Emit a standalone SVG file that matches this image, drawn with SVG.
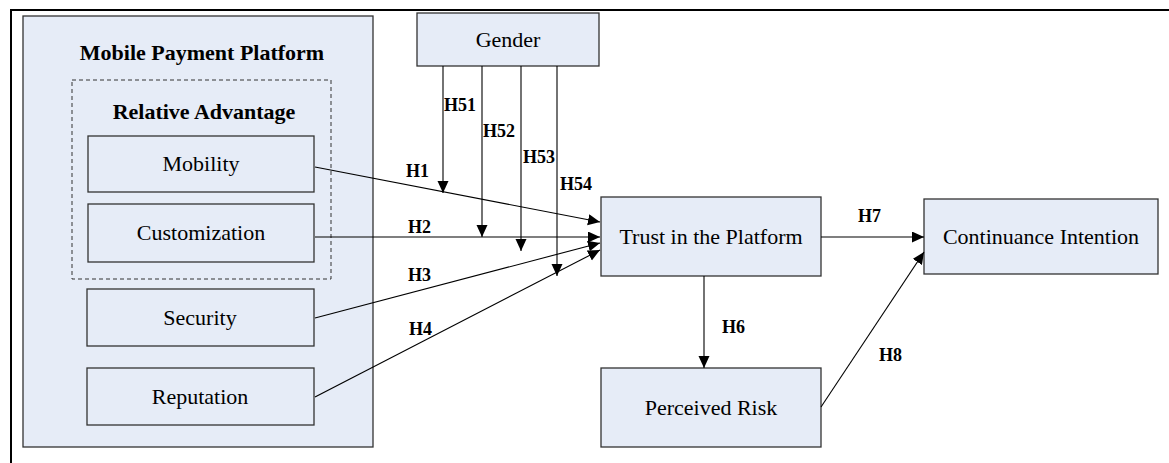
<svg xmlns="http://www.w3.org/2000/svg" width="1169" height="463" viewBox="0 0 1169 463">
<style>
.box{fill:#E6ECF7;stroke:#333;stroke-width:1.3}
.t{font-family:"Liberation Serif","Times New Roman",serif;font-size:22px;fill:#000;text-anchor:middle}
.tb{font-family:"Liberation Serif","Times New Roman",serif;font-size:22px;font-weight:bold;fill:#000;text-anchor:middle}
.lb{font-family:"Liberation Serif","Times New Roman",serif;font-size:18px;font-weight:bold;fill:#000}
.c{stroke:#000;stroke-width:1.1;fill:none;marker-end:url(#ah)}
</style>
<defs>
<marker id="ah" markerUnits="userSpaceOnUse" markerWidth="14" markerHeight="12" refX="12" refY="5.5" orient="auto">
<path d="M0,0 L12,5.5 L0,11 z" fill="#000"/>
</marker>
</defs>
<rect width="1169" height="463" fill="#fff"/>
<path d="M11,463 L11,10 L1169,10" fill="none" stroke="#000" stroke-width="2"/>

<g id="platform">
<rect class="box" x="23" y="16" width="350" height="431"/>
<text class="tb" x="202" y="60">Mobile Payment Platform</text>
</g>
<g id="relative-advantage">
<rect x="72" y="80" width="259" height="199" fill="none" stroke="#333" stroke-width="1" stroke-dasharray="4,3"/>
<text class="tb" x="204" y="119">Relative Advantage</text>
</g>
<g id="mobility">
<rect class="box" x="88" y="136" width="226" height="56"/>
<text class="t" x="201" y="171">Mobility</text>
</g>
<g id="customization">
<rect class="box" x="88" y="204" width="226" height="58"/>
<text class="t" x="201" y="240">Customization</text>
</g>
<g id="security">
<rect class="box" x="87" y="289" width="227" height="57"/>
<text class="t" x="200" y="325">Security</text>
</g>
<g id="reputation">
<rect class="box" x="87" y="368" width="227" height="57"/>
<text class="t" x="200" y="404">Reputation</text>
</g>
<g id="gender">
<rect class="box" x="417" y="13" width="182" height="53"/>
<text class="t" x="508" y="47">Gender</text>
</g>
<g id="trust">
<rect class="box" x="601" y="197" width="220" height="79"/>
<text class="t" x="711" y="244">Trust in the Platform</text>
</g>
<g id="risk">
<rect class="box" x="601" y="368" width="220" height="79"/>
<text class="t" x="711" y="415">Perceived Risk</text>
</g>
<g id="continuance">
<rect class="box" x="924" y="199" width="234" height="75"/>
<text class="t" x="1041" y="244">Continuance Intention</text>
</g>

<g id="connectors">
<line class="c" x1="315" y1="167" x2="600" y2="222"/>
<line class="c" x1="315" y1="237" x2="600" y2="237"/>
<line class="c" x1="315" y1="318" x2="600" y2="243"/>
<line class="c" x1="315" y1="397" x2="600" y2="250"/>
<line class="c" x1="443" y1="66" x2="443" y2="193"/>
<line class="c" x1="482" y1="66" x2="482" y2="237"/>
<line class="c" x1="521" y1="66" x2="521" y2="251"/>
<line class="c" x1="557" y1="66" x2="557" y2="276"/>
<line class="c" x1="704" y1="276" x2="704" y2="368"/>
<line class="c" x1="821" y1="237" x2="924" y2="237"/>
<line class="c" x1="821" y1="407" x2="924" y2="252"/>
<text class="lb" x="406" y="177">H1</text>
<text class="lb" x="408" y="233">H2</text>
<text class="lb" x="408" y="281">H3</text>
<text class="lb" x="409" y="335">H4</text>
<text class="lb" x="444" y="111">H51</text>
<text class="lb" x="483" y="137">H52</text>
<text class="lb" x="523" y="163">H53</text>
<text class="lb" x="560" y="190">H54</text>
<text class="lb" x="722" y="333">H6</text>
<text class="lb" x="858" y="222">H7</text>
<text class="lb" x="879" y="361">H8</text>
</g>
</svg>
